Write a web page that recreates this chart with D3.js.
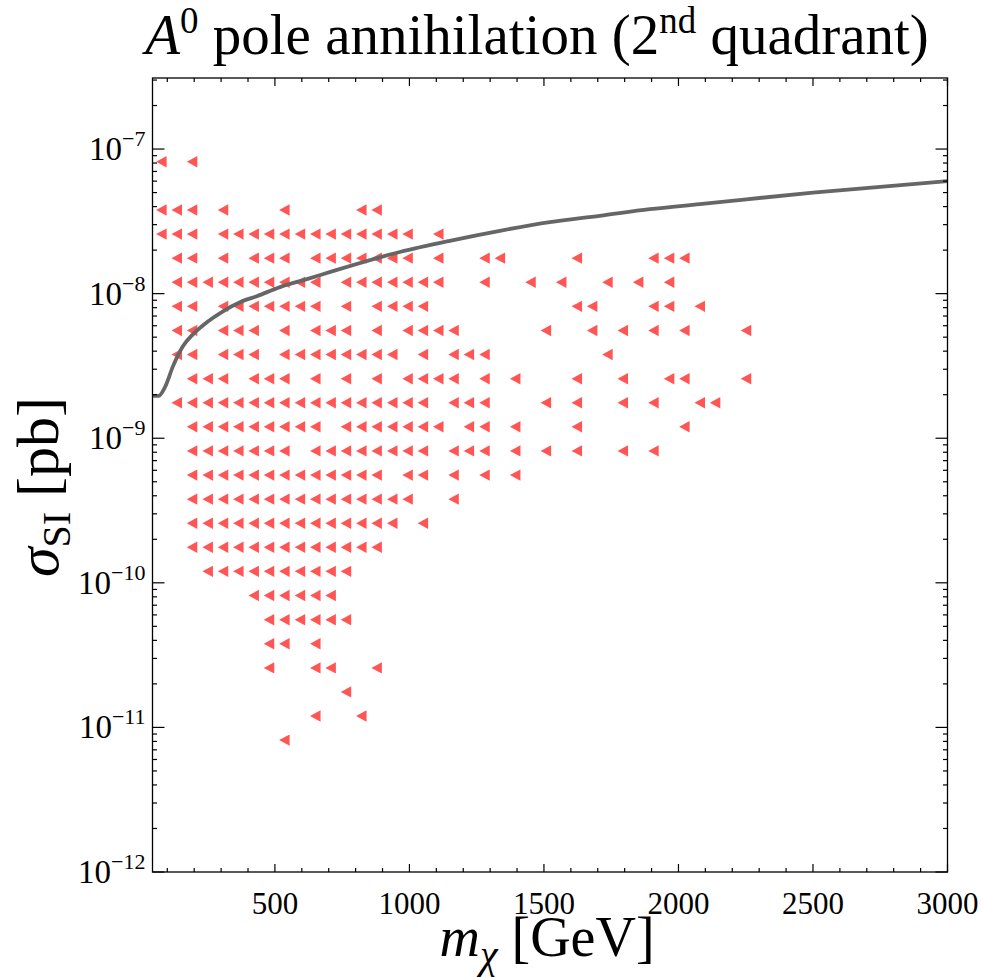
<!DOCTYPE html>
<html>
<head>
<meta charset="utf-8">
<script src="https://cdn.jsdelivr.net/npm/d3@7"></script>
<style>
  body { margin: 0; background: #fff; }
  text { font-family: "Liberation Serif", "Times New Roman", serif; fill: #000; }
</style>
</head>
<body>
<div id="chart"></div>
<script>
// mass grid of the scan (GeV)
const massGrid = [79, 136, 193, 251, 308, 365, 422, 479, 536, 594, 651, 708, 765, 822, 879, 937,
                  994, 1051, 1108, 1165, 1222, 1280, 1337, 1394, 1451, 1508, 1565, 1623, 1680, 1737,
                  1794, 1851, 1908, 1966, 2023, 2080, 2137, 2194, 2252];

// sigma_SI rows of the scan (pb)
const sigmaLevels = [8.17e-8, 5.56e-8, 3.79e-8, 2.58e-8, 1.76e-8, 1.20e-8, 8.17e-9, 5.56e-9,
                     3.79e-9, 2.58e-9, 1.76e-9, 1.20e-9, 8.17e-10, 5.56e-10, 3.79e-10, 2.58e-10,
                     1.76e-10, 1.20e-10, 8.17e-11, 5.56e-11, 3.79e-11, 2.58e-11, 1.76e-11, 1.20e-11,
                     8.17e-12];

// which mass columns carry a point, one list per sigma row
const rowColumns = [
  [0, 2],
  [],
  [0, 1, 2, 4, 8, 13, 14],
  [0, 1, 2, 4, 5, 6, 7, 8, 9, 10, 11, 12, 13, 14, 15, 16, 18],
  [1, 2, 4, 6, 7, 8, 10, 11, 12, 13, 14, 15, 16, 18, 21, 22, 27, 32, 33, 34],
  [1, 2, 3, 4, 5, 6, 7, 8, 9, 10, 12, 13, 14, 15, 16, 17, 18, 21, 24, 26, 29, 31, 33],
  [1, 2, 4, 5, 6, 7, 8, 9, 10, 12, 14, 15, 16, 17, 27, 28, 32, 33, 35],
  [1, 2, 4, 5, 6, 8, 10, 11, 12, 14, 16, 17, 18, 19, 25, 28, 30, 32, 34, 38],
  [1, 2, 4, 5, 6, 8, 9, 10, 11, 12, 13, 14, 15, 17, 19, 20, 21, 29],
  [2, 3, 4, 6, 7, 8, 10, 12, 14, 16, 17, 18, 19, 21, 23, 27, 30, 33, 34, 38],
  [1, 2, 3, 4, 5, 6, 7, 8, 9, 10, 11, 12, 13, 14, 15, 16, 17, 19, 20, 21, 25, 27, 30, 32, 35, 36],
  [2, 3, 4, 5, 6, 7, 8, 9, 10, 12, 13, 14, 15, 16, 17, 18, 20, 21, 23, 27, 34],
  [2, 3, 4, 5, 6, 7, 8, 10, 11, 12, 13, 14, 15, 16, 17, 19, 20, 21, 23, 25, 27, 30, 32],
  [2, 3, 4, 5, 6, 7, 8, 9, 10, 11, 12, 13, 14, 16, 17, 19, 21, 23],
  [2, 3, 4, 5, 6, 7, 8, 9, 10, 11, 12, 13, 14, 15, 16, 19],
  [2, 3, 4, 5, 6, 7, 8, 9, 10, 11, 12, 13, 14, 15, 17],
  [2, 3, 4, 5, 6, 7, 8, 9, 10, 11, 12, 13, 14],
  [3, 4, 5, 6, 7, 8, 9, 10, 11, 12],
  [6, 7, 8, 9, 10, 11],
  [7, 8, 9, 10, 11, 12],
  [7, 8, 10],
  [7, 10, 11, 14],
  [12],
  [10, 13],
  [8]
];

// exclusion limit curve
const limitMass  = [45, 67, 91, 121, 158, 195, 247, 307, 370, 433, 519, 619, 715, 964,
                    1150, 1336, 1522, 1707, 1893, 2079, 2500, 3000];
const limitSigma = [1.96e-9, 1.96e-9, 2.25e-9, 3.14e-9, 4.32e-9, 5.23e-9, 6.34e-9, 7.55e-9,
                    8.72e-9, 9.6e-9, 1.11e-8, 1.26e-8, 1.43e-8, 1.94e-8, 2.32e-8, 2.72e-8,
                    3.12e-8, 3.45e-8, 3.84e-8, 4.16e-8, 5.0e-8, 6.0e-8];

const xMajor = [500, 1000, 1500, 2000, 2500, 3000];
const yMajorExp = [-7, -8, -9, -10, -11, -12];

var W = 982, H = 977;
var pLeft = 152.5, pRight = 947.5, pTop = 78, pBottom = 872;

var svg = d3.select("#chart").append("svg")
    .attr("width", W)
    .attr("height", H);

var x = d3.scaleLinear().domain([45, 3000]).range([pLeft, pRight]);
var y = d3.scaleLog().domain([1e-12, 3.1e-7]).range([pBottom, pTop]);

// points
var points = [];
rowColumns.forEach(function(cols, i) {
    cols.forEach(function(c) {
        points.push({m: massGrid[c], s: sigmaLevels[i]});
    });
});

svg.append("g").selectAll("path")
    .data(points)
    .enter().append("path")
    .attr("d", "M-5.5,0L5,-5.7L5,5.7Z")
    .attr("transform", function(d) { return "translate(" + x(d.m) + "," + y(d.s) + ")"; })
    .attr("fill", "#ff5555");

// limit line
var line = d3.line()
    .x(function(d) { return x(d[0]); })
    .y(function(d) { return y(d[1]); })
    .curve(d3.curveMonotoneX);

svg.append("path")
    .datum(limitMass.map(function(m, i) { return [m, limitSigma[i]]; }))
    .attr("d", line)
    .attr("fill", "none")
    .attr("stroke", "#666")
    .attr("stroke-width", 3.8);

// frame
svg.append("rect")
    .attr("x", pLeft).attr("y", pTop)
    .attr("width", pRight - pLeft).attr("height", pBottom - pTop)
    .attr("fill", "none").attr("stroke", "#000").attr("stroke-width", 1.3);

// x ticks (inward, bottom and top)
var xMinor = d3.range(100, 3000, 100).filter(function(v) { return v % 500 != 0; });
var xt = svg.append("g").attr("stroke", "#000").attr("stroke-width", 1.2);
xMajor.concat(xMinor).forEach(function(v) {
    var len = (v % 500 == 0) ? 8 : 4;
    xt.append("line").attr("x1", x(v)).attr("x2", x(v)).attr("y1", pBottom).attr("y2", pBottom - len);
    xt.append("line").attr("x1", x(v)).attr("x2", x(v)).attr("y1", pTop).attr("y2", pTop + len);
});

svg.append("g").selectAll("text")
    .data(xMajor)
    .enter().append("text")
    .attr("x", function(d) { return x(d); })
    .attr("y", pBottom + 42)
    .attr("text-anchor", "middle")
    .attr("font-size", 31)
    .text(function(d) { return d; });

// y ticks (log: majors + 2..9 minors)
var yt = svg.append("g").attr("stroke", "#000").attr("stroke-width", 1.2);
for (var e = -12; e <= -7; e++) {
    for (var k = 1; k <= 9; k++) {
        var v = k * Math.pow(10, e);
        if (v > 3.1e-7) continue;
        var len = (k == 1) ? 12 : 4.5;
        yt.append("line").attr("x1", pLeft).attr("x2", pLeft + len).attr("y1", y(v)).attr("y2", y(v));
        yt.append("line").attr("x1", pRight).attr("x2", pRight - len).attr("y1", y(v)).attr("y2", y(v));
    }
}

var ylab = svg.append("g").selectAll("text")
    .data(yMajorExp)
    .enter().append("text")
    .attr("x", pLeft - 7)
    .attr("y", function(d) { return y(Math.pow(10, d)) + 11; })
    .attr("text-anchor", "end")
    .attr("font-size", 33);
ylab.append("tspan").text("10");
ylab.append("tspan").attr("dy", -14).attr("font-size", 22).text(function(d) { return "\u2212" + (-d); });

// title
var title = svg.append("text")
    .attr("x", 537).attr("y", 54)
    .attr("text-anchor", "middle")
    .attr("font-size", 57);
title.append("tspan").attr("font-style", "italic").text("A");
title.append("tspan").attr("dy", -21).attr("font-size", 37).text("0");
title.append("tspan").attr("dy", 21).text(" pole annihilation (2");
title.append("tspan").attr("dy", -21).attr("font-size", 37).text("nd");
title.append("tspan").attr("dy", 21).text(" quadrant)");

// x label
var xl = svg.append("text")
    .attr("x", 547).attr("y", 956)
    .attr("text-anchor", "middle")
    .attr("font-size", 56);
xl.append("tspan").attr("font-style", "italic").text("m");
xl.append("tspan").attr("dy", 12).attr("font-size", 40).attr("font-style", "italic").text("\u03c7");
xl.append("tspan").attr("dy", -12).text(" [GeV]");

// y label
var yl = svg.append("text")
    .attr("transform", "translate(58,487) rotate(-90)")
    .attr("text-anchor", "middle")
    .attr("font-size", 60);
yl.append("tspan").attr("font-style", "italic").text("\u03c3");
yl.append("tspan").attr("dy", 12).attr("font-size", 40).text("SI");
yl.append("tspan").attr("dy", -12).text(" [pb]");
</script>
</body>
</html>
